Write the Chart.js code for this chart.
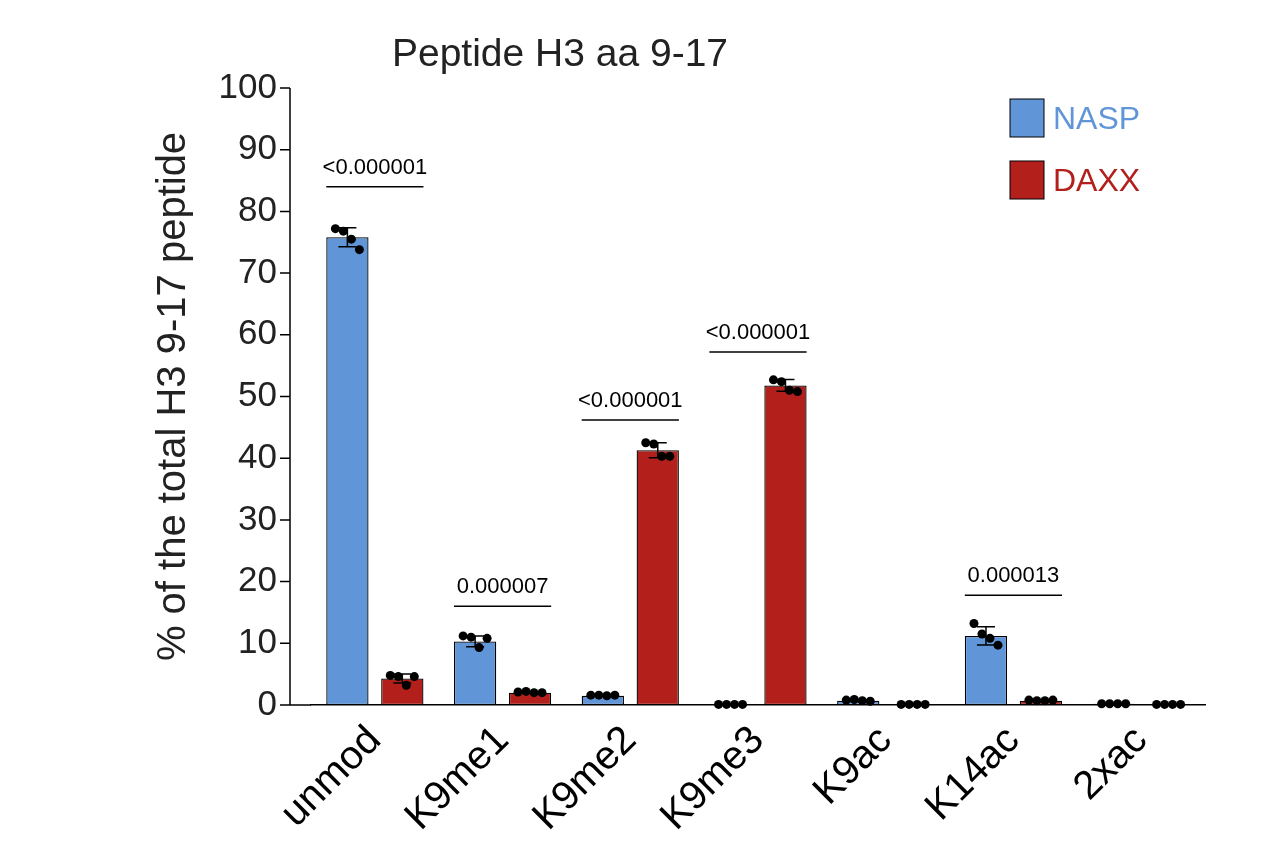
<!DOCTYPE html>
<html>
<head>
<meta charset="utf-8">
<script src="https://cdn.jsdelivr.net/npm/chart.js@4/dist/chart.umd.min.js"></script>
<style>
  body { margin: 0; background: #fff; }
  canvas { display: block; }
</style>
</head>
<body>
<canvas id="chart" width="1277" height="867"></canvas>
<script>
// data
var categories = ['unmod', 'K9me1', 'K9me2', 'K9me3', 'K9ac', 'K14ac', '2xac'];
var naspMeans = [75.8, 10.3, 1.5, 0.1, 0.7, 11.2, 0.2];
var daxxMeans = [4.3, 2.0, 41.3, 51.8, 0.1, 0.7, 0.1];
var naspReps = [
  [77.2, 76.8, 75.5, 73.8], [11.2, 11.0, 9.3, 10.8], [1.6, 1.6, 1.5, 1.6], [0.1, 0.1, 0.1, 0.1],
  [0.8, 0.9, 0.7, 0.6], [13.2, 11.5, 10.8, 9.7], [0.2, 0.2, 0.2, 0.2]
];
var daxxReps = [
  [4.8, 4.6, 3.2, 4.6], [2.1, 2.2, 2.0, 2.0], [42.5, 42.3, 40.3, 40.3], [52.7, 52.4, 51.0, 50.8],
  [0.1, 0.1, 0.1, 0.1], [0.8, 0.7, 0.7, 0.8], [0.1, 0.1, 0.1, 0.1]
];
var sigIndex = [0, 1, 2, 3, 5];
var sigHeight = [84, 16, 46.2, 57.2, 17.8];
var sigLabel = ['<0.000001', '0.000007', '<0.000001', '<0.000001', '0.000013'];
var yTicks = [0, 10, 20, 30, 40, 50, 60, 70, 80, 90, 100];

var naspColor = '#6096d8';
var daxxColor = '#b3201c';
var FONT = '"Liberation Sans", Arial, sans-serif';
var AXIS_X = 290;

function sd(a) {
  var m = a.reduce(function(s, v){ return s + v; }, 0) / a.length;
  var v = a.reduce(function(s, x){ return s + (x - m) * (x - m); }, 0) / (a.length - 1);
  return Math.sqrt(v);
}

var overlay = {
  id: 'overlay',
  afterDatasetsDraw: function(chart) {
    var ctx = chart.ctx;
    var y = chart.scales.y;
    var area = chart.chartArea;
    ctx.save();
    // y axis line and ticks, set a little left of the first category
    ctx.strokeStyle = '#000';
    ctx.lineWidth = 1.5;
    ctx.beginPath();
    ctx.moveTo(AXIS_X, y.getPixelForValue(100));
    ctx.lineTo(AXIS_X, area.bottom);
    ctx.lineTo(area.left, area.bottom);
    yTicks.forEach(function(v) {
      var py = y.getPixelForValue(v);
      ctx.moveTo(AXIS_X - 10, py); ctx.lineTo(AXIS_X, py);
    });
    ctx.stroke();
    // error bars and dots
    [naspReps, daxxReps].forEach(function(reps, di) {
      var meta = chart.getDatasetMeta(di);
      var means = di === 0 ? naspMeans : daxxMeans;
      meta.data.forEach(function(bar, i) {
        var s = sd(reps[i]);
        var cx = bar.x;
        ctx.strokeStyle = '#000';
        ctx.lineWidth = 1.5;
        if (s > 0.05) {
          var t = y.getPixelForValue(means[i] + s), b = y.getPixelForValue(Math.max(0, means[i] - s));
          ctx.beginPath();
          ctx.moveTo(cx, t); ctx.lineTo(cx, b);
          ctx.moveTo(cx - 9, t); ctx.lineTo(cx + 9, t);
          ctx.moveTo(cx - 9, b); ctx.lineTo(cx + 9, b);
          ctx.stroke();
        }
        var offs = [-12, -4, 4, 12];
        ctx.fillStyle = '#000';
        reps[i].forEach(function(v, k) {
          ctx.beginPath();
          ctx.arc(cx + offs[k], y.getPixelForValue(v), 4.5, 0, Math.PI * 2);
          ctx.fill();
        });
      });
    });
    // significance lines
    ctx.font = '22px ' + FONT;
    ctx.textAlign = 'center';
    ctx.textBaseline = 'bottom';
    sigIndex.forEach(function(ci, k) {
      var b0 = chart.getDatasetMeta(0).data[ci], b1 = chart.getDatasetMeta(1).data[ci];
      var x0 = b0.x - b0.width / 2, x1 = b1.x + b1.width / 2;
      var py = y.getPixelForValue(sigHeight[k]);
      ctx.lineWidth = 1.5;
      ctx.beginPath(); ctx.moveTo(x0, py); ctx.lineTo(x1, py); ctx.stroke();
      ctx.fillStyle = '#000';
      ctx.fillText(sigLabel[k], (x0 + x1) / 2, py - 8);
    });
    // title
    ctx.font = '39px ' + FONT;
    ctx.fillStyle = '#222';
    ctx.textBaseline = 'middle';
    ctx.fillText('Peptide H3 aa 9-17', 560, 55);
    // legend
    var items = [['NASP', naspColor, 118], ['DAXX', daxxColor, 180]];
    ctx.textAlign = 'left';
    ctx.font = '32px ' + FONT;
    items.forEach(function(it) {
      ctx.fillStyle = it[1];
      ctx.fillRect(1010, it[2] - 19, 34, 38);
      ctx.strokeStyle = '#000'; ctx.lineWidth = 1;
      ctx.strokeRect(1010, it[2] - 19, 34, 38);
      ctx.fillText(it[0], 1053, it[2] + 2);
    });
    ctx.restore();
  }
};

new Chart(document.getElementById('chart').getContext('2d'), {
  type: 'bar',
  data: {
    labels: categories,
    datasets: [
      { label: 'NASP', data: naspMeans, backgroundColor: naspColor, borderColor: '#000', borderWidth: 1.3, borderSkipped: false },
      { label: 'DAXX', data: daxxMeans, backgroundColor: daxxColor, borderColor: '#000', borderWidth: 1.3, borderSkipped: false }
    ]
  },
  options: {
    responsive: false,
    animation: false,
    layout: { padding: { left: 150, top: 88, right: 72, bottom: 0 } },
    datasets: { bar: { categoryPercentage: 0.86, barPercentage: 0.77 } },
    plugins: { legend: { display: false }, tooltip: { enabled: false } },
    scales: {
      x: {
        grid: { display: false, drawTicks: false },
        border: { color: '#000', width: 1.5 },
        ticks: { color: '#000', maxRotation: 45, minRotation: 45, padding: 12,
                 font: { size: 40, family: FONT } },
        afterFit: function(s) { s.height = 162; }
      },
      y: {
        min: 0, max: 100,
        afterBuildTicks: function(s) { s.ticks = yTicks.map(function(v){ return { value: v }; }); },
        grid: { display: false, drawTicks: false },
        border: { display: false },
        ticks: { color: '#222', padding: 34, font: { size: 35, family: FONT } },
        title: { display: true, text: '% of the total H3 9-17 peptide', color: '#222', padding: 0,
                 font: { size: 40, family: FONT } },
        afterFit: function(s) { s.width = 161; }
      }
    }
  },
  plugins: [overlay]
});
</script>
</body>
</html>
